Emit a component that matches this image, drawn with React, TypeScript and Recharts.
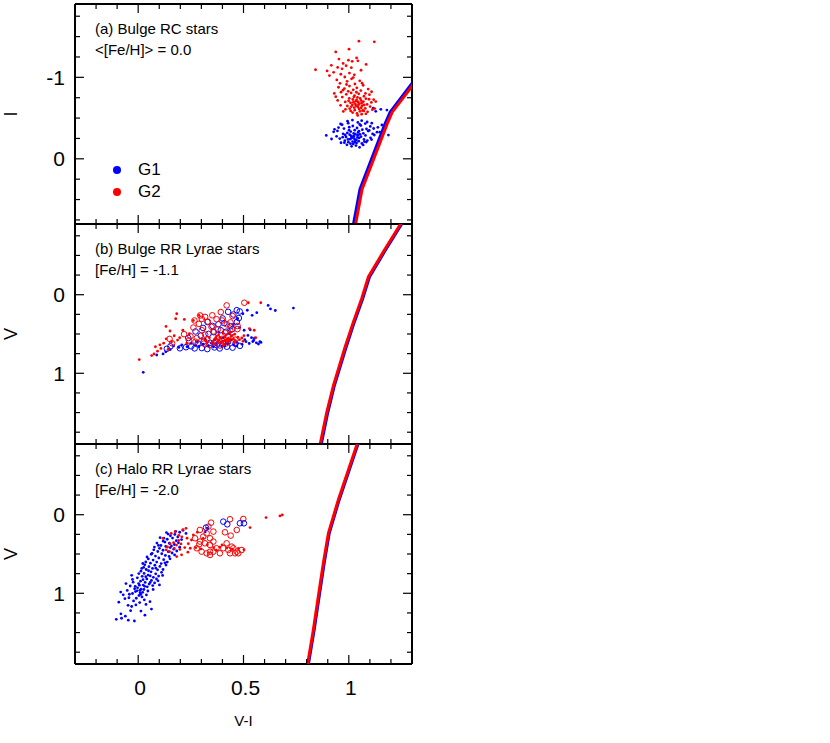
import React from 'react';
import { ScatterChart, Scatter, XAxis, YAxis, Legend } from 'recharts';

type Pt = [number, number];

const FONT = '"Liberation Sans", Arial, Helvetica, sans-serif';
const BLUE = '#0000ff';
const RED = '#ff0000';

// axes
const xTicks = [-0.2, -0.1, 0, 0.1, 0.2, 0.3, 0.4, 0.5, 0.6, 0.7, 0.8, 0.9, 1, 1.1, 1.2];
const xMajor = [0, 0.5, 1];
const rcTicks = [-1.75, -1.5, -1.25, -1, -0.75, -0.5, -0.25, 0, 0.25, 0.5, 0.75];
const rcMajor = [-1, 0];
const rrTicks = [-0.75, -0.5, -0.25, 0, 0.25, 0.5, 0.75, 1, 1.25, 1.5, 1.75];
const rrMajor = [0, 1];

// (a) bulge red clump, [V-I, I]
const rcG1: Pt[] = [
  [0.893, -0.287], [0.928, -0.331], [0.951, -0.384], [0.968, -0.418], [0.994, -0.462], [1.017, -0.476],
  [1.043, -0.447], [1.061, -0.468], [1.078, -0.433], [1.102, -0.397], [1.118, -0.372], [1.147, -0.328],
  [1.157, -0.415], [1.128, -0.583], [1.116, -0.622], [1.152, -0.607], [1.181, -0.598], [1.188, -0.291],
  [0.942, -0.276], [0.957, -0.248], [0.973, -0.307], [0.981, -0.223], [0.987, -0.268], [1.004, -0.296],
  [0.998, -0.204], [1.012, -0.253], [1.009, -0.334], [1.021, -0.183], [1.024, -0.277], [1.032, -0.229],
  [1.028, -0.352], [1.041, -0.262], [1.037, -0.193], [1.053, -0.301], [1.047, -0.217], [1.058, -0.272],
  [1.064, -0.358], [1.072, -0.238], [1.069, -0.313], [1.083, -0.206], [1.079, -0.287], [1.092, -0.341],
  [1.103, -0.258], [1.113, -0.306], [0.946, -0.342], [0.963, -0.197], [0.977, -0.371], [0.991, -0.172],
  [1.002, -0.388], [1.013, -0.153], [1.019, -0.403], [1.034, -0.162], [1.039, -0.378], [1.051, -0.141],
  [1.057, -0.409], [1.068, -0.171], [1.084, -0.366], [1.088, -0.224], [1.097, -0.349], [1.108, -0.236],
  [1.121, -0.292], [1.134, -0.327], [0.971, -0.266], [0.993, -0.318], [1.006, -0.241], [1.018, -0.212],
  [1.031, -0.302], [1.044, -0.323], [1.049, -0.256], [1.062, -0.188], [1.011, -0.281], [0.983, -0.292],
  [1.026, -0.247], [1.036, -0.231], [0.918, -0.243], [0.932, -0.362], [0.961, -0.427], [0.997, -0.438],
  [1.052, -0.421], [1.087, -0.452], [1.109, -0.437], [1.138, -0.386], [0.979, -0.198], [1.029, -0.203],
  [1.074, -0.212], [1.008, -0.186], [1.001, -0.352], [1.048, -0.338], [1.016, -0.268], [1.023, -0.311],
  [0.996, -0.238], [1.042, -0.289],
];
const rcG2: Pt[] = [
  [1.048, -1.444], [1.121, -1.436], [1.001, -1.345], [0.938, -1.312], [1.037, -1.238], [0.998, -1.21],
  [1.016, -1.196], [1.043, -1.203], [0.953, -1.224], [0.917, -1.147], [0.842, -1.093], [0.897, -1.079],
  [0.928, -1.062], [0.968, -1.104], [0.987, -1.142], [1.012, -1.118], [1.058, -1.087], [0.962, -1.038],
  [0.981, -1.004], [1.026, -1.031], [0.908, -1.021], [0.947, -1.122], [1.082, -1.158], [1.003, -1.052],
  [0.973, -1.171], [0.943, -0.968], [0.958, -0.927], [0.992, -0.951], [1.013, -0.982], [1.029, -0.918],
  [1.052, -0.957], [1.068, -0.903], [0.951, -0.878], [0.979, -0.862], [1.003, -0.893], [1.021, -0.847],
  [1.038, -0.871], [1.057, -0.838], [1.092, -0.856], [1.108, -0.823], [0.931, -0.802], [0.963, -0.818],
  [0.988, -0.791], [1.011, -0.809], [1.027, -0.776], [1.047, -0.797], [1.072, -0.768], [1.098, -0.787],
  [0.969, -0.758], [1.002, -0.742], [1.019, -0.728], [1.041, -0.753], [1.058, -0.717], [1.081, -0.738],
  [1.118, -0.726], [0.947, -0.716], [0.983, -0.698], [1.008, -0.687], [1.033, -0.707], [1.051, -0.678],
  [1.069, -0.702], [1.087, -0.668], [1.107, -0.692], [0.961, -0.657], [0.993, -0.648], [1.017, -0.662],
  [1.043, -0.636], [1.063, -0.652], [1.078, -0.618], [1.101, -0.641], [1.004, -0.617], [1.028, -0.597],
  [1.049, -0.612], [1.071, -0.588], [1.018, -0.568], [1.039, -0.557], [1.061, -0.548], [1.089, -0.577],
  [1.123, -0.617], [0.938, -0.763], [0.972, -0.842], [0.997, -0.828], [1.036, -0.817], [1.079, -0.802],
  [1.024, -0.761], [1.054, -0.741], [1.031, -0.672], [0.999, -0.712], [1.062, -0.688], [1.012, -0.641],
  [1.044, -0.697], [1.073, -0.661], [1.026, -0.628], [0.984, -0.607], [1.009, -0.588], [1.053, -0.583],
  [0.989, -0.912], [1.063, -0.928], [1.021, -0.997], [1.096, -0.731], [1.128, -0.702], [1.112, -0.603],
  [1.081, -0.552], [0.974, -0.582], [1.042, -0.532], [1.034, -0.651], [1.046, -0.664], [1.022, -0.694],
  [1.059, -0.627], [1.037, -0.722], [1.066, -0.593],
];
const rcIsoG1: Pt[] = [[0.993, 1.2], [1.022, 0.804], [1.053, 0.373], [1.172, -0.429], [1.196, -0.572], [1.299, -0.922], [1.4, -1.265]];
const rcIsoG2: Pt[] = [[1.003, 1.2], [1.032, 0.804], [1.063, 0.373], [1.182, -0.429], [1.206, -0.572], [1.309, -0.922], [1.41, -1.265]];

// (b) bulge RR Lyrae, [V-I, V]
const bulgeG1Dots: Pt[] = [
  [0.024, 0.988], [0.088, 0.767], [0.118, 0.754], [0.131, 0.727], [0.152, 0.698], [0.168, 0.652], [0.193, 0.671],
  [0.207, 0.638], [0.232, 0.662], [0.251, 0.618], [0.272, 0.643], [0.288, 0.661], [0.309, 0.628], [0.333, 0.652],
  [0.348, 0.617], [0.371, 0.641], [0.392, 0.608], [0.412, 0.653], [0.428, 0.622], [0.453, 0.638], [0.469, 0.607],
  [0.493, 0.632], [0.512, 0.598], [0.527, 0.621], [0.548, 0.583], [0.561, 0.612], [0.578, 0.597], [0.538, 0.547],
  [0.521, 0.518], [0.503, 0.452], [0.482, 0.418], [0.532, 0.447], [0.552, 0.553], [0.497, 0.242], [0.518, 0.198],
  [0.541, 0.262], [0.563, 0.228], [0.617, 0.136], [0.628, 0.181], [0.651, 0.201], [0.737, 0.17], [0.472, 0.302],
  [0.451, 0.378], [0.433, 0.497], [0.402, 0.552], [0.362, 0.578], [0.318, 0.567], [0.281, 0.603], [0.442, 0.571],
  [0.383, 0.478], [0.571, 0.627], [0.583, 0.607], [0.544, 0.597], [0.506, 0.572], [0.467, 0.652], [0.398, 0.662],
  [0.357, 0.663],
];
const bulgeG1Rings: Pt[] = [
  [0.136, 0.688], [0.153, 0.657], [0.198, 0.682], [0.227, 0.668], [0.252, 0.657], [0.268, 0.683], [0.302, 0.679],
  [0.328, 0.692], [0.362, 0.671], [0.387, 0.684], [0.421, 0.662], [0.448, 0.674], [0.483, 0.651], [0.283, 0.618],
  [0.311, 0.597], [0.342, 0.612], [0.368, 0.588], [0.403, 0.617], [0.427, 0.598], [0.462, 0.623], [0.297, 0.521],
  [0.334, 0.498], [0.359, 0.477], [0.392, 0.452], [0.418, 0.471], [0.447, 0.438], [0.272, 0.468], [0.308, 0.423],
  [0.353, 0.397], [0.381, 0.376], [0.409, 0.362], [0.438, 0.401], [0.468, 0.348], [0.478, 0.297], [0.452, 0.252],
  [0.427, 0.218], [0.468, 0.197], [0.482, 0.213], [0.401, 0.302], [0.329, 0.348], [0.238, 0.551], [0.373, 0.642],
];
const bulgeG2Dots: Pt[] = [
  [0.005, 0.826], [0.064, 0.775], [0.075, 0.754], [0.092, 0.718], [0.103, 0.638], [0.121, 0.617], [0.133, 0.562],
  [0.132, 0.404], [0.142, 0.697], [0.158, 0.603], [0.171, 0.522], [0.183, 0.242], [0.178, 0.306], [0.197, 0.548],
  [0.212, 0.452], [0.219, 0.315], [0.231, 0.618], [0.243, 0.497], [0.262, 0.328], [0.289, 0.264], [0.523, 0.102],
  [0.582, 0.102], [0.528, 0.431], [0.551, 0.452], [0.558, 0.548], [0.502, 0.521], [0.301, 0.558], [0.322, 0.583],
  [0.338, 0.547], [0.352, 0.602], [0.363, 0.571], [0.372, 0.527], [0.383, 0.582], [0.394, 0.558], [0.401, 0.597],
  [0.413, 0.538], [0.421, 0.573], [0.432, 0.592], [0.441, 0.528], [0.452, 0.563], [0.461, 0.582], [0.473, 0.541],
  [0.481, 0.572], [0.492, 0.551], [0.498, 0.593], [0.382, 0.512], [0.403, 0.488], [0.418, 0.508], [0.437, 0.477],
  [0.458, 0.502], [0.361, 0.622], [0.408, 0.628], [0.457, 0.612], [0.387, 0.543], [0.428, 0.553], [0.447, 0.518],
  [0.412, 0.583], [0.368, 0.548], [0.108, 0.683], [0.082, 0.662], [0.151, 0.462], [0.187, 0.577], [0.423, 0.603],
  [0.396, 0.612], [0.434, 0.571], [0.376, 0.597],
];
const bulgeG2Rings: Pt[] = [
  [0.42, 0.136], [0.504, 0.102], [0.392, 0.221], [0.294, 0.264], [0.267, 0.328], [0.262, 0.418], [0.288, 0.371],
  [0.302, 0.308], [0.331, 0.342], [0.348, 0.408], [0.372, 0.312], [0.398, 0.328], [0.421, 0.377], [0.438, 0.352],
  [0.302, 0.452], [0.318, 0.508], [0.357, 0.468], [0.378, 0.442], [0.412, 0.483], [0.437, 0.452], [0.471, 0.438],
  [0.248, 0.528], [0.241, 0.582], [0.278, 0.552], [0.327, 0.568], [0.368, 0.603], [0.398, 0.562], [0.428, 0.531],
  [0.461, 0.572], [0.338, 0.638], [0.388, 0.647], [0.161, 0.618], [0.149, 0.562], [0.218, 0.502], [0.352, 0.262],
  [0.318, 0.283], [0.448, 0.272], [0.472, 0.398], [0.312, 0.622], [0.418, 0.618], [0.272, 0.598],
];
const bulgeIsoG1: Pt[] = [
  [0.862, 2.0], [0.868, 1.917], [0.9, 1.5], [0.931, 1.159], [0.987, 0.669], [1.026, 0.349], [1.066, 0.05],
  [1.098, -0.226], [1.169, -0.546], [1.248, -0.887], [1.274, -1.0],
];
const bulgeIsoG2: Pt[] = [
  [0.857, 2.0], [0.863, 1.917], [0.895, 1.5], [0.9265, 1.159], [0.982, 0.669], [1.0215, 0.349], [1.061, 0.05],
  [1.093, -0.226], [1.164, -0.546], [1.243, -0.887], [1.269, -1.0],
];

// (c) halo RR Lyrae, [V-I, V]
const haloG1Dots: Pt[] = [
  [-0.104, 1.332], [-0.079, 1.318], [-0.047, 1.342], [-0.018, 1.353], [0.032, 1.279], [-0.036, 1.221], [-0.031, 1.168],
  [-0.011, 1.148], [0.056, 1.107], [-0.063, 1.068], [-0.044, 1.057], [-0.022, 1.097], [-0.071, 1.019], [-0.027, 1.003],
  [0.004, 1.028], [0.018, 1.046], [-0.013, 0.978], [0.008, 0.962], [-0.003, 0.931], [0.021, 0.988], [-0.017, 0.942],
  [0.012, 1.012], [0.027, 0.952], [-0.038, 0.907], [0.002, 0.877], [0.024, 0.896], [0.043, 0.918], [0.011, 0.846],
  [0.033, 0.862], [-0.024, 0.858], [0.052, 0.883], [-0.004, 0.803], [0.019, 0.784], [0.041, 0.817], [0.063, 0.836],
  [0.028, 0.747], [0.047, 0.768], [0.072, 0.797], [-0.031, 0.772], [0.013, 0.718], [0.038, 0.697], [0.061, 0.727],
  [0.083, 0.752], [0.097, 0.781], [0.051, 0.661], [0.068, 0.684], [0.092, 0.702], [0.031, 0.638], [0.058, 0.617],
  [0.079, 0.643], [0.103, 0.658], [0.118, 0.697], [0.071, 0.577], [0.088, 0.603], [0.109, 0.622], [0.048, 0.563],
  [0.082, 0.527], [0.098, 0.551], [0.121, 0.572], [0.138, 0.603], [0.066, 0.492], [0.093, 0.468], [0.112, 0.497],
  [0.129, 0.518], [0.101, 0.428], [0.118, 0.452], [0.143, 0.471], [0.161, 0.487], [0.108, 0.392], [0.131, 0.403],
  [0.152, 0.418], [0.127, 0.348], [0.148, 0.362], [0.172, 0.379], [0.138, 0.312], [0.163, 0.297], [0.181, 0.331],
  [0.153, 0.268], [0.174, 0.251], [0.188, 0.283], [0.197, 0.223], [0.213, 0.198], [0.178, 0.212], [0.227, 0.238],
  [0.191, 0.358], [0.169, 0.438], [0.147, 0.532], [0.132, 0.641], [0.111, 0.733], [0.087, 0.818], [0.069, 0.902],
  [0.046, 0.971], [0.029, 1.083], [-0.052, 0.963], [-0.058, 0.877], [-0.083, 0.984], [0.077, 0.412], [0.062, 0.503],
  [0.036, 0.602], [0.017, 0.683], [0.003, 0.749], [0.119, 0.337], [0.142, 0.247], [0.104, 0.292], [0.089, 0.361],
  [0.158, 0.398], [0.183, 0.462], [0.057, 0.778], [0.078, 0.868], [-0.009, 1.063], [0.007, 1.118], [0.039, 1.021],
  [-0.048, 1.153], [-0.082, 1.262], [0.327, 0.171], [0.318, 0.219], [0.023, 0.827], [0.036, 0.788], [-0.006, 0.969],
  [0.031, 0.912], [0.049, 0.713], [0.009, 0.993], [-0.014, 0.912], [0.014, 0.948], [0.006, 0.897], [-0.042, 1.012],
  [0.037, 1.142], [-0.027, 0.823], [0.071, 0.952], [0.057, 0.862], [0.094, 0.842], [0.026, 0.671], [0.116, 0.773],
  [0.084, 0.681], [0.042, 0.538], [0.127, 0.612], [0.074, 0.447], [0.151, 0.562], [0.096, 0.391], [0.173, 0.512],
  [0.122, 0.298], [0.197, 0.413], [0.134, 0.227], [0.206, 0.317], [-0.092, 1.113], [0.063, 1.201], [-0.061, 1.291],
  [0.013, 1.227], [0.101, 0.893], [0.022, 0.621],
];
const haloG1Rings: Pt[] = [[0.404, 0.088], [0.423, 0.122], [0.483, 0.109], [0.502, 0.109], [0.322, 0.164]];
const haloG2Dots: Pt[] = [
  [0.118, 0.302], [0.157, 0.238], [0.176, 0.217], [0.193, 0.262], [0.212, 0.191], [0.227, 0.173], [0.207, 0.281],
  [0.232, 0.298], [0.253, 0.322], [0.182, 0.387], [0.171, 0.428], [0.149, 0.469], [0.133, 0.447], [0.206, 0.511],
  [0.183, 0.533], [0.221, 0.418], [0.247, 0.427], [0.273, 0.419], [0.298, 0.436], [0.168, 0.357], [0.192, 0.328],
  [0.203, 0.372], [0.531, 0.164], [0.607, 0.037], [0.673, 0.016], [0.684, 0.003], [0.358, 0.418], [0.387, 0.412],
  [0.421, 0.423], [0.448, 0.437], [0.476, 0.428], [0.502, 0.446], [0.398, 0.383], [0.371, 0.452], [0.238, 0.368],
  [0.262, 0.257], [0.281, 0.223], [0.151, 0.372], [0.139, 0.411], [0.198, 0.442], [0.236, 0.477], [0.328, 0.382],
  [0.309, 0.302],
];
const haloG2Rings: Pt[] = [
  [0.346, 0.101], [0.436, 0.058], [0.499, 0.054], [0.468, 0.194], [0.412, 0.224], [0.439, 0.266], [0.293, 0.194],
  [0.325, 0.237], [0.309, 0.279], [0.341, 0.3], [0.293, 0.342], [0.317, 0.364], [0.341, 0.385], [0.357, 0.342],
  [0.278, 0.427], [0.301, 0.47], [0.325, 0.491], [0.341, 0.512], [0.372, 0.427], [0.404, 0.427], [0.428, 0.449],
  [0.452, 0.427], [0.468, 0.47], [0.491, 0.449], [0.444, 0.406], [0.388, 0.491], [0.357, 0.47], [0.29, 0.376],
  [0.27, 0.3], [0.42, 0.364], [0.341, 0.47], [0.436, 0.491], [0.46, 0.491], [0.475, 0.491], [0.357, 0.215],
  [0.333, 0.152],
];
const haloIsoG1: Pt[] = [
  [0.802, 2.0], [0.809, 1.89], [0.8355, 1.466], [0.859, 1.043], [0.883, 0.618], [0.907, 0.236], [0.954, -0.188],
  [1.002, -0.569], [1.042, -0.887], [1.056, -1.0],
];
const haloIsoG2: Pt[] = [
  [0.798, 2.0], [0.805, 1.89], [0.8315, 1.466], [0.855, 1.043], [0.879, 0.618], [0.903, 0.236], [0.95, -0.188],
  [0.998, -0.569], [1.038, -0.887], [1.052, -1.0],
];

const toXY = (pts: Pt[]) => pts.map(([x, y]) => ({ x, y }));

const dot = (color: string) => (p: any) => <circle cx={p.cx} cy={p.cy} r={1.4} fill={color} />;
const ring = (color: string) => (p: any) => (
  <circle cx={p.cx} cy={p.cy} r={2.8} fill='none' stroke={color} strokeWidth={1} />
);
const noMark = () => <g />;

type Side = 'left' | 'right' | 'top' | 'bottom';

// ticks point inward, majors longer; labels only on left/bottom
const makeTick = (side: Side, major: number[], showLabel: boolean) => (props: any) => {
  const { x, y, payload } = props;
  const isMajor = major.some((m) => Math.abs(m - payload.value) < 1e-6);
  const len = isMajor ? 9 : 5;
  const x2 = side === 'left' ? x + len : side === 'right' ? x - len : x;
  const y2 = side === 'bottom' ? y - len : side === 'top' ? y + len : y;
  return (
    <g>
      <line x1={x} y1={y} x2={x2} y2={y2} stroke='#000' strokeWidth={1.2} />
      {showLabel && isMajor && side === 'left' && (
        <text x={x - 10} y={y + 7.5} textAnchor='end' fontSize={21} fontFamily={FONT} fill='#000'>
          {payload.value}
        </text>
      )}
      {showLabel && isMajor && side === 'bottom' && (
        <text x={x + 2} y={y + 31} textAnchor='middle' fontSize={21} fontFamily={FONT} fill='#000'>
          {payload.value}
        </text>
      )}
    </g>
  );
};

const frame = { stroke: '#000', strokeWidth: 2 };

type PanelProps = {
  top: number;
  height: number;
  bottom: number;
  yDomain: [number, number];
  yTicks: number[];
  yMajor: number[];
  yName: string;
  xLabels: boolean;
  frameData: Pt[];
  children: React.ReactNode;
};

const Panel = ({ top, height, bottom, yDomain, yTicks, yMajor, yName, xLabels, frameData, children }: PanelProps) => (
  <div style={{ position: 'absolute', left: 0, top, width: 830, height }}>
    <ScatterChart width={830} height={height} margin={{ top: 3, right: 417, bottom, left: 0 }}>
      <XAxis
        xAxisId='b'
        type='number'
        dataKey='x'
        domain={[-0.3, 1.3]}
        allowDataOverflow
        ticks={xTicks}
        interval={0}
        tickSize={0}
        tickMargin={0}
        tickLine={false}
        axisLine={frame}
        tick={makeTick('bottom', xMajor, xLabels)}
        height={xLabels ? 60 : 1}
        label={
          xLabels
            ? { value: 'V-I', position: 'insideBottom', offset: -1.5, fontSize: 15, fill: '#000', fontFamily: FONT }
            : undefined
        }
      />
      <XAxis
        xAxisId='t'
        orientation='top'
        type='number'
        dataKey='x'
        domain={[-0.3, 1.3]}
        allowDataOverflow
        ticks={xTicks}
        interval={0}
        tickSize={0}
        tickMargin={0}
        tickLine={false}
        axisLine={frame}
        tick={makeTick('top', xMajor, false)}
        height={1}
      />
      <YAxis
        yAxisId='l'
        type='number'
        dataKey='y'
        domain={yDomain}
        reversed
        allowDataOverflow
        ticks={yTicks}
        interval={0}
        tickSize={0}
        tickMargin={0}
        tickLine={false}
        axisLine={frame}
        tick={makeTick('left', yMajor, true)}
        width={75}
        label={{
          value: yName,
          angle: -90,
          position: 'insideLeft',
          offset: 11,
          fontSize: 18,
          fill: '#000',
          fontFamily: FONT,
          style: { textAnchor: 'middle' },
        }}
      />
      <YAxis
        yAxisId='r'
        orientation='right'
        type='number'
        dataKey='y'
        domain={yDomain}
        reversed
        allowDataOverflow
        ticks={yTicks}
        interval={0}
        tickSize={0}
        tickMargin={0}
        tickLine={false}
        axisLine={frame}
        tick={makeTick('right', yMajor, false)}
        width={1}
      />
      {/* keeps the top and right frame axes tied to a series */}
      <Scatter xAxisId='t' yAxisId='r' data={toXY(frameData)} shape={noMark} isAnimationActive={false} />
      {children}
    </ScatterChart>
  </div>
);

const legendItems = [
  { name: 'G1', color: BLUE },
  { name: 'G2', color: RED },
];

const LegendBox = () => (
  <div style={{ fontFamily: FONT, fontSize: 17, color: '#000' }}>
    {legendItems.map((item) => (
      <div key={item.name} style={{ display: 'flex', alignItems: 'center', height: 22 }}>
        <span
          style={{ display: 'inline-block', width: 8, height: 8, borderRadius: 4, background: item.color, marginRight: 17 }}
        />
        <span>{item.name}</span>
      </div>
    ))}
  </div>
);

const Note = ({ top, lines }: { top: number; lines: string[] }) => (
  <div
    style={{ position: 'absolute', left: 95, top, fontFamily: FONT, fontSize: 15, lineHeight: '21px', color: '#000' }}
  >
    {lines.map((t) => (
      <div key={t}>{t}</div>
    ))}
  </div>
);

const axisIds = { xAxisId: 'b', yAxisId: 'l' };

const App = () => (
  <div style={{ position: 'absolute', left: 0, top: 0, width: 830, height: 743, background: '#fff' }}>
    <Panel top={0} height={230} bottom={5} yDomain={[-1.9, 0.8]} yTicks={rcTicks} yMajor={rcMajor} yName='I' xLabels={false} frameData={rcIsoG1}>
      <Scatter {...axisIds} data={toXY(rcG1)} shape={dot(BLUE)} isAnimationActive={false} />
      <Scatter {...axisIds} data={toXY(rcG2)} shape={dot(RED)} isAnimationActive={false} />
      <Scatter {...axisIds} data={toXY(rcIsoG1)} shape={noMark} line={{ stroke: BLUE, strokeWidth: 3 }} lineType='joint' isAnimationActive={false} />
      <Scatter {...axisIds} data={toXY(rcIsoG2)} shape={noMark} line={{ stroke: RED, strokeWidth: 3 }} lineType='joint' isAnimationActive={false} />
      <Legend
        layout='vertical'
        align='center'
        verticalAlign='middle'
        wrapperStyle={{ left: 113, top: 159, width: 80, height: 44 }}
        content={() => <LegendBox />}
      />
    </Panel>
    <Panel top={220} height={230} bottom={5} yDomain={[-0.9, 1.9]} yTicks={rrTicks} yMajor={rrMajor} yName='V' xLabels={false} frameData={bulgeIsoG1}>
      <Scatter {...axisIds} data={toXY(bulgeG1Rings)} shape={ring(BLUE)} isAnimationActive={false} />
      <Scatter {...axisIds} data={toXY(bulgeG1Dots)} shape={dot(BLUE)} isAnimationActive={false} />
      <Scatter {...axisIds} data={toXY(bulgeG2Rings)} shape={ring(RED)} isAnimationActive={false} />
      <Scatter {...axisIds} data={toXY(bulgeG2Dots)} shape={dot(RED)} isAnimationActive={false} />
      <Scatter {...axisIds} data={toXY(bulgeIsoG1)} shape={noMark} line={{ stroke: BLUE, strokeWidth: 3 }} lineType='joint' isAnimationActive={false} />
      <Scatter {...axisIds} data={toXY(bulgeIsoG2)} shape={noMark} line={{ stroke: RED, strokeWidth: 3 }} lineType='joint' isAnimationActive={false} />
    </Panel>
    <Panel top={440} height={303} bottom={19} yDomain={[-0.9, 1.9]} yTicks={rrTicks} yMajor={rrMajor} yName='V' xLabels frameData={haloIsoG1}>
      <Scatter {...axisIds} data={toXY(haloG1Dots)} shape={dot(BLUE)} isAnimationActive={false} />
      <Scatter {...axisIds} data={toXY(haloG2Rings)} shape={ring(RED)} isAnimationActive={false} />
      <Scatter {...axisIds} data={toXY(haloG2Dots)} shape={dot(RED)} isAnimationActive={false} />
      <Scatter {...axisIds} data={toXY(haloG1Rings)} shape={ring(BLUE)} isAnimationActive={false} />
      <Scatter {...axisIds} data={toXY(haloIsoG1)} shape={noMark} line={{ stroke: BLUE, strokeWidth: 3 }} lineType='joint' isAnimationActive={false} />
      <Scatter {...axisIds} data={toXY(haloIsoG2)} shape={noMark} line={{ stroke: RED, strokeWidth: 3 }} lineType='joint' isAnimationActive={false} />
    </Panel>
    <Note top={18} lines={['(a) Bulge RC stars', '<[Fe/H]> = 0.0']} />
    <Note top={238} lines={['(b) Bulge RR Lyrae stars', '[Fe/H] = -1.1']} />
    <Note top={458} lines={['(c) Halo RR Lyrae stars', '[Fe/H] = -2.0']} />
  </div>
);

export default App;
